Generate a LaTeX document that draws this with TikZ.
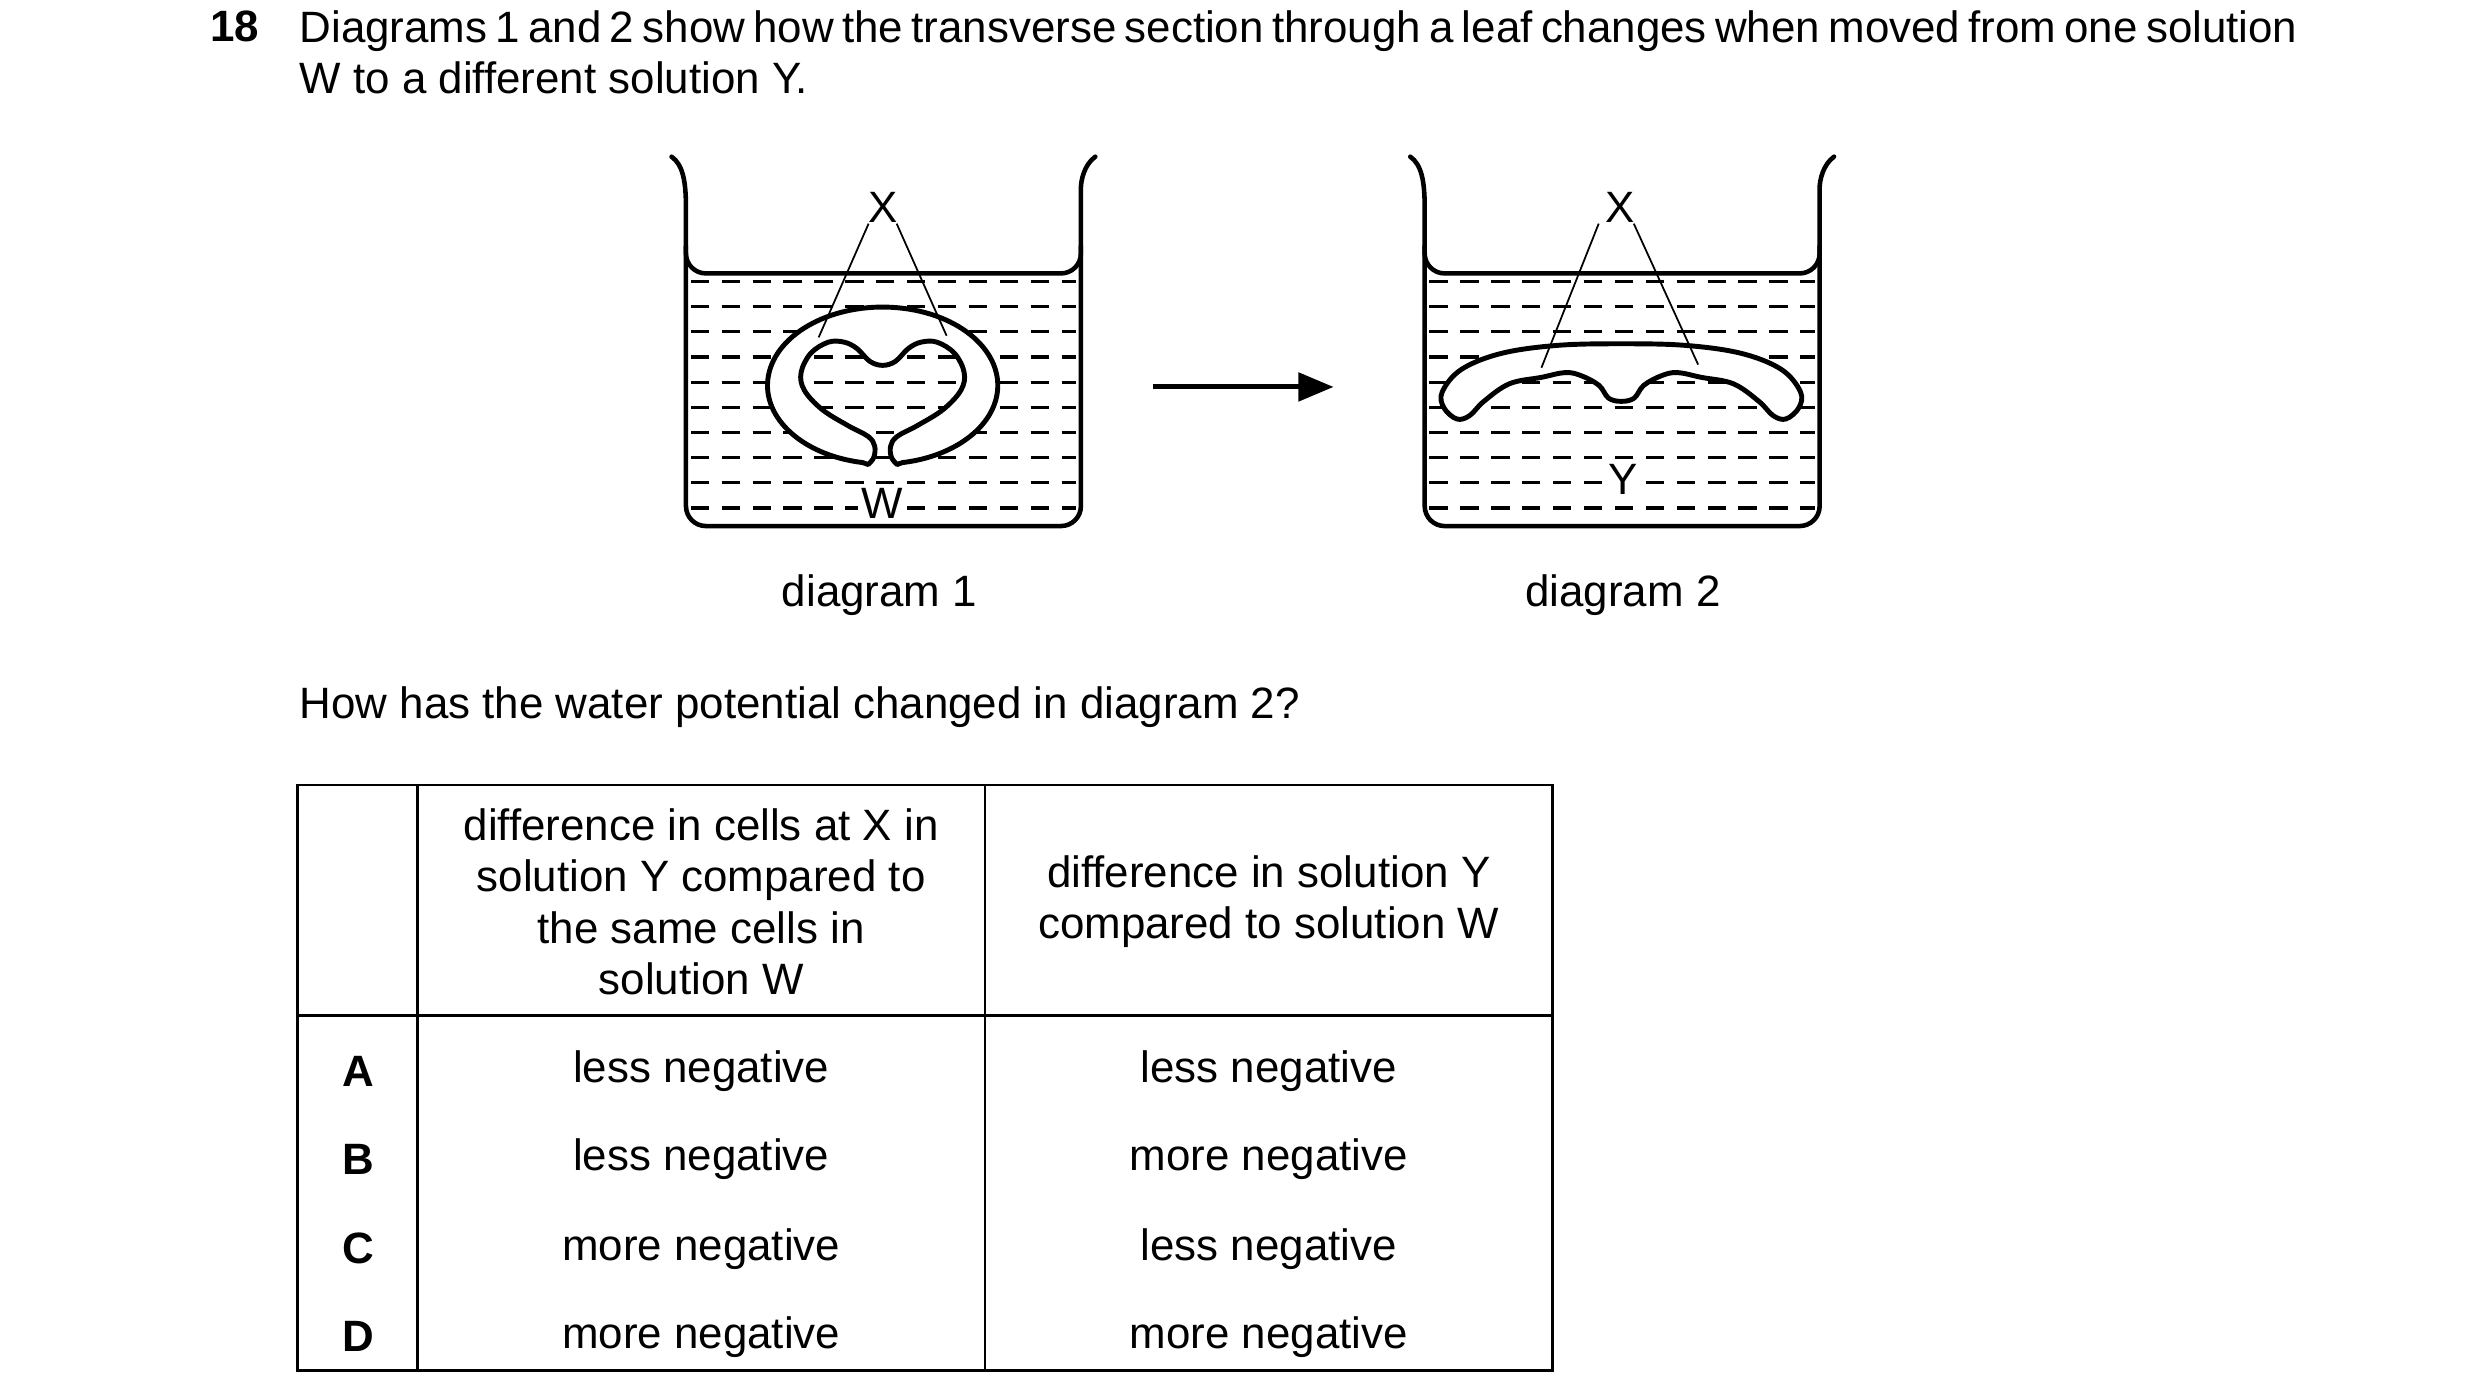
\documentclass[tikz,border=0pt]{standalone}
\usepackage{fontspec}
\setmainfont{Liberation Sans}
\usetikzlibrary{arrows.meta}

\tikzset{
  beaker/.style={line width=1.3pt, line cap=round},
  water/.style={line width=0.9pt, dash pattern=on 5.2pt off 3.6pt},
  leaf/.style={line width=1.4pt, fill=white, line join=round},
  pointer/.style={line width=0.5pt},
  tbl/.style={line width=0.7pt},
  txt/.style={font=\fontsize{12.5}{14.7}\selectfont, inner sep=0pt},
  lbl/.style={txt, fill=white, inner sep=1pt}
}

\begin{document}
\begin{tikzpicture}[x=0.016cm, y=-0.016cm]
  \useasboundingbox (0,0) rectangle (1551,873);

  % question text
  \node[txt, anchor=base west, font=\fontsize{12.5}{14.7}\selectfont\bfseries] (qnum) at (131,26) {18};
  \node[txt, anchor=north west, text width=20cm, align=justify] (qtext) at (187,6)
    {Diagrams 1 and 2 show how the transverse section through a leaf changes when moved from one solution W to a different solution Y.};

  % the two beakers
  \foreach \bx/\nm in {420/one, 882/two} {
    \begin{scope}[shift={(\bx,98)}]
      \draw[beaker] (0,0) .. controls (7,5) and (9,15) .. (9,32)
        [rounded corners=0.2cm] -- (9,231) -- (256,231) -- (256,32)
        [sharp corners] .. controls (256,15) and (258,5) .. (265,0);
      \draw[beaker, rounded corners=0.2cm] (9,56) -- (9,73) -- (256,73) -- (256,56);
      \foreach \k in {0,...,9}
        \draw[water] (12,78+\k*15.75) -- (253,78+\k*15.75);
    \end{scope}
  }

  % diagram 1: rolled leaf in W
  \begin{scope}[shift={(552,241)}]
    \draw[leaf] (-12.5,48.3) arc[start angle=100, end angle=440, x radius=72, y radius=49]
      -- plot[smooth, tension=0.6] coordinates {(9,49.5) (5.5,45) (5,38) (9,32) (22,25) (38,15)
        (49,3) (51,-8) (45,-20) (34,-27) (24,-27) (16,-23) (8,-15) (0,-12.5) (-8,-15) (-16,-23)
        (-24,-27) (-34,-27) (-45,-20) (-51,-8) (-49,3) (-38,15) (-22,25) (-9,32) (-5,38)
        (-5.5,45) (-9,49.5)} -- cycle;
    \coordinate (xa1) at (-40,-30);
    \coordinate (xb1) at (40,-31);
  \end{scope}
  \node[txt] (x1) at (552,130) {X};
  \draw[pointer] ([xshift=-4]x1.south) -- (xa1);
  \draw[pointer] ([xshift=4]x1.south) -- (xb1);
  \node[lbl] (w) at (552,315) {W};

  % diagram 2: flattened leaf in Y
  \begin{scope}[shift={(1014,241)}]
    \draw[leaf] plot[smooth cycle, tension=0.6] coordinates {(-103,21) (-111,14) (-112,4)
      (-100,-10) (-75,-20) (-40,-25) (0,-26) (40,-25) (75,-20) (100,-10) (112,4) (111,14)
      (103,21) (95,19) (86,10) (70,-1) (50,-5) (35,-8) (25,-6) (14,0) (8,8) (0,10) (-8,8)
      (-14,0) (-25,-6) (-35,-8) (-50,-5) (-70,-1) (-86,10) (-95,19)};
    \coordinate (xa2) at (-50,-11);
    \coordinate (xb2) at (48,-13);
  \end{scope}
  \node[txt] (x2) at (1013,130) {X};
  \draw[pointer] ([xshift=-6]x2.south) -- (xa2);
  \draw[pointer] ([xshift=4]x2.south) -- (xb2);
  \node[lbl] (y) at (1015,300) {Y};

  % arrow between
  \coordinate (arrs) at (721,242);
  \coordinate (arre) at (834,242);
  \draw[line width=1.4pt, -{Triangle[length=10pt, width=8pt]}] (arrs) -- (arre);

  \node[txt] (d1) at (550,372) {diagram 1};
  \node[txt] (d2) at (1015,372) {diagram 2};

  \node[txt, anchor=west] (ask) at (187,442) {How has the water potential changed in diagram 2?};

  % table
  \draw[tbl] (186,491) rectangle (971,857);
  \draw[tbl] (186,635) -- (971,635);
  \draw[tbl] (261,491) -- (261,857);
  \draw[tbl] (616,491) -- (616,857);
  \node[txt, align=center] (h1) at (438.5,564) {difference in cells at X in\\solution Y compared to\\the same cells in\\solution W};
  \node[txt, align=center] (h2) at (793.5,564) {difference in solution Y\\compared to solution W};
  \foreach \r/\ltr/\ca/\cb [count=\i] in {670/A/less/less, 725/B/less/more, 781/C/more/less, 836/D/more/more} {
    \node[txt, font=\fontsize{12.5}{14.7}\selectfont\bfseries] (opt\i) at (224,\r) {\ltr};
    \node[txt] (ca\i) at (438.5,\r) {\ca\ negative};
    \node[txt] (cb\i) at (793.5,\r) {\cb\ negative};
  }
\end{tikzpicture}
\end{document}
